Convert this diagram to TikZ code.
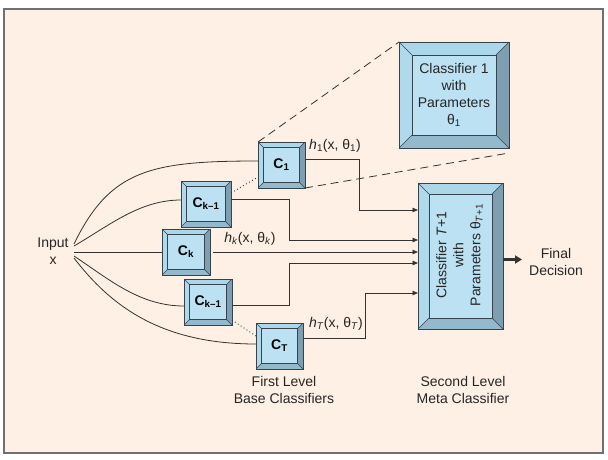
\documentclass[tikz,border=0pt]{standalone}
\usepackage{fontspec}
\setmainfont{Liberation Sans}
\usetikzlibrary{arrows.meta}
\definecolor{bg}{HTML}{FEF0E4}
\definecolor{framec}{HTML}{707070}
\definecolor{face}{HTML}{BBE1F3}
\definecolor{bevtop}{HTML}{ABD7EB}
\definecolor{bevleft}{HTML}{B0D9EC}
\definecolor{bevbot}{HTML}{92B9CC}
\definecolor{bevright}{HTML}{7D9FB1}
\definecolor{edge}{HTML}{36434D}
\definecolor{linec}{HTML}{333333}
\tikzset{
  bevelbox/.style={draw=edge, line width=0.8pt, fill=face, inner sep=0pt, outer sep=0pt, align=center,
    path picture={
      \path (path picture bounding box.north west) coordinate (ppa)
            (path picture bounding box.north east) coordinate (ppb)
            (path picture bounding box.south east) coordinate (ppc)
            (path picture bounding box.south west) coordinate (ppd);
      \path ([xshift=#1pt,yshift=-#1pt]ppa) coordinate (ppA)
            ([xshift=-#1pt,yshift=-#1pt]ppb) coordinate (ppB)
            ([xshift=-#1pt,yshift=#1pt]ppc) coordinate (ppC)
            ([xshift=#1pt,yshift=#1pt]ppd) coordinate (ppD);
      \fill[bevtop] (ppa)--(ppb)--(ppB)--(ppA)--cycle;
      \fill[bevright] (ppb)--(ppc)--(ppC)--(ppB)--cycle;
      \fill[bevbot] (ppc)--(ppd)--(ppD)--(ppC)--cycle;
      \fill[bevleft] (ppd)--(ppa)--(ppA)--(ppD)--cycle;
      \draw[edge, line width=0.6pt] (ppA) rectangle (ppC);
      \draw[edge, line width=0.5pt] (ppa)--(ppA) (ppb)--(ppB) (ppc)--(ppC) (ppd)--(ppD);
    }},
  cbox/.style={bevelbox=5.5, minimum width=48pt, minimum height=46pt, font=\fontsize{14}{17}\selectfont\bfseries},
  wire/.style={draw=linec, line width=0.8pt},
  arr/.style={wire, -{Triangle[length=5.5pt,width=4.5pt]}},
  txt/.style={align=center, inner sep=0pt, text=black!85},
  dashline/.style={draw=linec, line width=0.8pt, dash pattern=on 8pt off 5pt},
  dotline/.style={draw=linec, line width=0.9pt, dash pattern=on 0.9pt off 2.6pt}
}
\begin{document}
\begin{tikzpicture}[x=1pt,y=-1pt, font=\fontsize{14}{17}\selectfont]
\useasboundingbox (0,0) rectangle (608,460);
\draw[draw=framec, fill=bg, line width=1.3pt] (4,9) rectangle (603,453);

% dashed zoom lines (behind boxes)
\coordinate (dz) at (509,153);

% boxes
\node[bevelbox=13, minimum width=110pt, minimum height=106pt, txt] (cls1) at (454,95)
  {Classifier 1\\with\\Parameters\\θ\textsubscript{1}};
\node[bevelbox=11, minimum width=85pt, minimum height=146pt] (meta) at (460.5,256) {};
\node[txt, rotate=90] (metatxt) at (459.5,255)
  {Classifier \textit{T}+1\\with\\Parameters θ\textsubscript{\textit{T}+1}};

\node[cbox, minimum width=47pt] (c1) at (281.5,165) {C\textsubscript{1}};
\node[cbox, minimum width=50pt] (cka) at (206,204) {C\textsubscript{k–1}};
\node[cbox] (ck) at (186,252) {C\textsubscript{k}};
\node[cbox] (ckb) at (208,302) {C\textsubscript{k–1}};
\node[cbox, minimum width=47pt] (ct) at (279.5,346) {C\textsubscript{T}};

\draw[dashline] (c1.north west) -- (cls1.north west);
\draw[dashline] (c1.south east) -- (dz);

% dotted
\draw[dotline] ([yshift=-12pt]cka.north east) -- ([yshift=11pt]c1.south west);
\draw[dotline] ([yshift=5pt]ckb.south east) -- ([yshift=-13pt]ct.north west);

% input
\node[txt] (input) at (53,251) {Input\\x};
\coordinate (i1) at (74,244);
\coordinate (i2) at (74,246);
\coordinate (i3) at (74,252);
\coordinate (i4) at (74,256);
\coordinate (i5) at (74,258);
\draw[wire] (i1) .. controls (110,170) and (150,161) .. ([yshift=4pt]c1.west);
\draw[wire] (i2) .. controls (110,225) and (140,200) .. ([yshift=4pt]cka.west);
\draw[wire] (i3) -- (ck.west);
\draw[wire] (i4) .. controls (110,280) and (140,306) .. ([yshift=-4pt]ckb.west);
\draw[wire] (i5) .. controls (110,305) and (160,344) .. ([yshift=2pt]ct.west);

% outputs to meta
\draw[arr] ([yshift=6pt]c1.east) -| (359,210) -- (meta.west |- 0,210);
\draw[arr] ([yshift=5pt]cka.east) -| (289,240) -- (meta.west |- 0,240);
\draw[arr] ([xshift=3pt]ck.east) -- (meta.west |- 0,252);
\draw[arr] ([yshift=-3pt]ckb.east) -| (289,263) -- (meta.west |- 0,263);
\draw[arr] ([yshift=8pt]ct.east) -| (365,293) -- (meta.west |- 0,293);

\node[txt] (lh1) at (335,146) {\textit{h}\textsubscript{1}(x, θ\textsubscript{1})};
\node[txt] (lhk) at (250,239) {\textit{h}\textsubscript{\textit{k}}(x, θ\textsubscript{\textit{k}})};
\node[txt] (lht) at (336,324) {\textit{h}\textsubscript{\textit{T}}(x, θ\textsubscript{\textit{T}})};

% final
\coordinate (fout) at (522,259.5);
\draw[draw=linec, line width=2.6pt, -{Triangle[length=7pt,width=8pt]}] (meta.east |- 0,259.5) -- (fout);
\node[txt] (final) at (556,262) {Final\\Decision};

\node[txt] (first) at (284,390) {First Level\\Base Classifiers};
\node[txt] (second) at (463,390) {Second Level\\Meta Classifier};
\end{tikzpicture}
\end{document}
